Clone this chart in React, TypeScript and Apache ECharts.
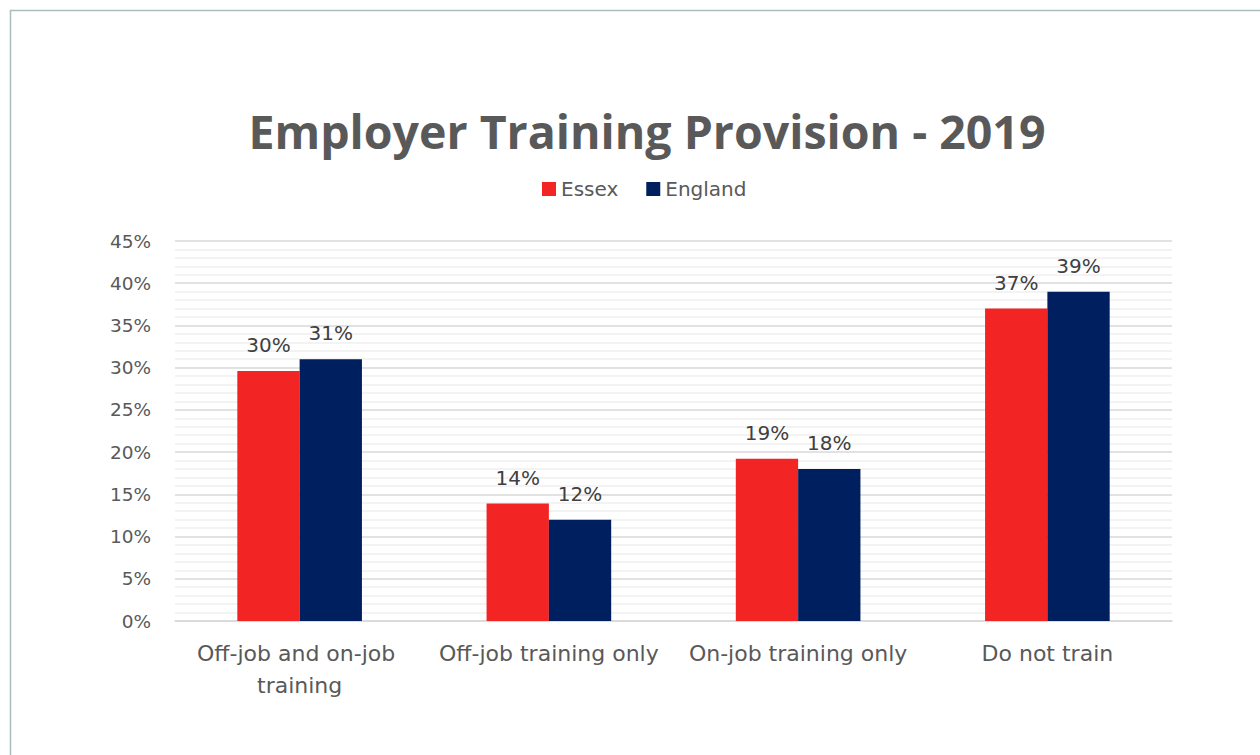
import React, { useEffect, useRef } from "react";
import * as echarts from "echarts";

const categories = [
  "Off-job and on-job training",
  "Off-job training only",
  "On-job training only",
  "Do not train",
];
const essexValues = [29.6, 13.9, 19.2, 37.0];
const englandValues = [31.0, 12.0, 18.0, 39.0];
const seriesNames = ["Essex", "England"];
const titleText = "Employer Training Provision - 2019";

const FONT = "'DejaVu Sans', 'Noto Sans', sans-serif";
const TITLE_FONT = "'Open Sans', 'Noto Sans', sans-serif";

export default function App() {
  const ref = useRef<HTMLDivElement>(null);
  useEffect(() => {
    if (!ref.current) return;
    const chart = echarts.init(ref.current, null, { renderer: "svg" });
    const labelStyle = {
      show: true,
      position: "top",
      distance: 16,
      color: "#404040",
      fontSize: 20,
      fontFamily: FONT,
      formatter: (p: any) => Math.round(p.value) + "%",
    };
    chart.setOption({
      animation: false,
      backgroundColor: "#ffffff",
      textStyle: { fontFamily: FONT },
      title: {
        text: titleText,
        left: 642,
        top: 102,
        textAlign: "center",
        textStyle: {
          fontFamily: TITLE_FONT,
          fontSize: 46.5,
          fontWeight: "bold",
          color: "#595959",
        },
      },
      legend: {
        data: seriesNames,
        left: 537,
        top: 174,
        itemWidth: 14,
        itemHeight: 14,
        itemGap: 28,
        icon: "rect",
        textStyle: { fontFamily: FONT, fontSize: 20, color: "#595959" },
      },
      graphic: [
        {
          type: "rect",
          shape: { x: 10.5, y: 10.5, width: 1300, height: 800 },
          style: { fill: "none", stroke: "#a9bfbf", lineWidth: 1.5 },
          silent: true,
        },
      ],
      grid: { left: 175, right: 88, top: 241, bottom: 134, containLabel: false },
      xAxis: {
        type: "category",
        data: categories,
        axisTick: { show: false },
        axisLine: { lineStyle: { color: "#d9d9d9", width: 1.5 } },
        axisLabel: {
          interval: 0,
          fontSize: 22,
          color: "#595959",
          fontFamily: FONT,
          margin: 16,
          width: 240,
          overflow: "break",
          lineHeight: 32,
        },
      },
      yAxis: {
        type: "value",
        min: 0,
        max: 45,
        interval: 5,
        axisLine: { show: false },
        axisTick: { show: false },
        axisLabel: {
          fontSize: 18.5,
          color: "#595959",
          fontFamily: FONT,
          margin: 24,
          formatter: (v: number) => v + "%",
        },
        splitLine: { lineStyle: { color: "#d9d9d9", width: 1.5 } },
        minorTick: { show: false, splitNumber: 5 },
        minorSplitLine: { show: true, lineStyle: { color: "#efefef", width: 1.5 } },
      },
      series: [
        {
          name: seriesNames[0],
          type: "bar",
          data: essexValues,
          barWidth: "25%",
          barGap: "0%",
          itemStyle: { color: "#f22424" },
          label: labelStyle,
        },
        {
          name: seriesNames[1],
          type: "bar",
          data: englandValues,
          barWidth: "25%",
          barGap: "0%",
          itemStyle: { color: "#001f5e" },
          label: labelStyle,
        },
      ],
    });
    return () => chart.dispose();
  }, []);
  return (
    <div
      ref={ref}
      style={{ position: "fixed", left: 0, top: 0, width: 1260, height: 755 }}
    />
  );
}
